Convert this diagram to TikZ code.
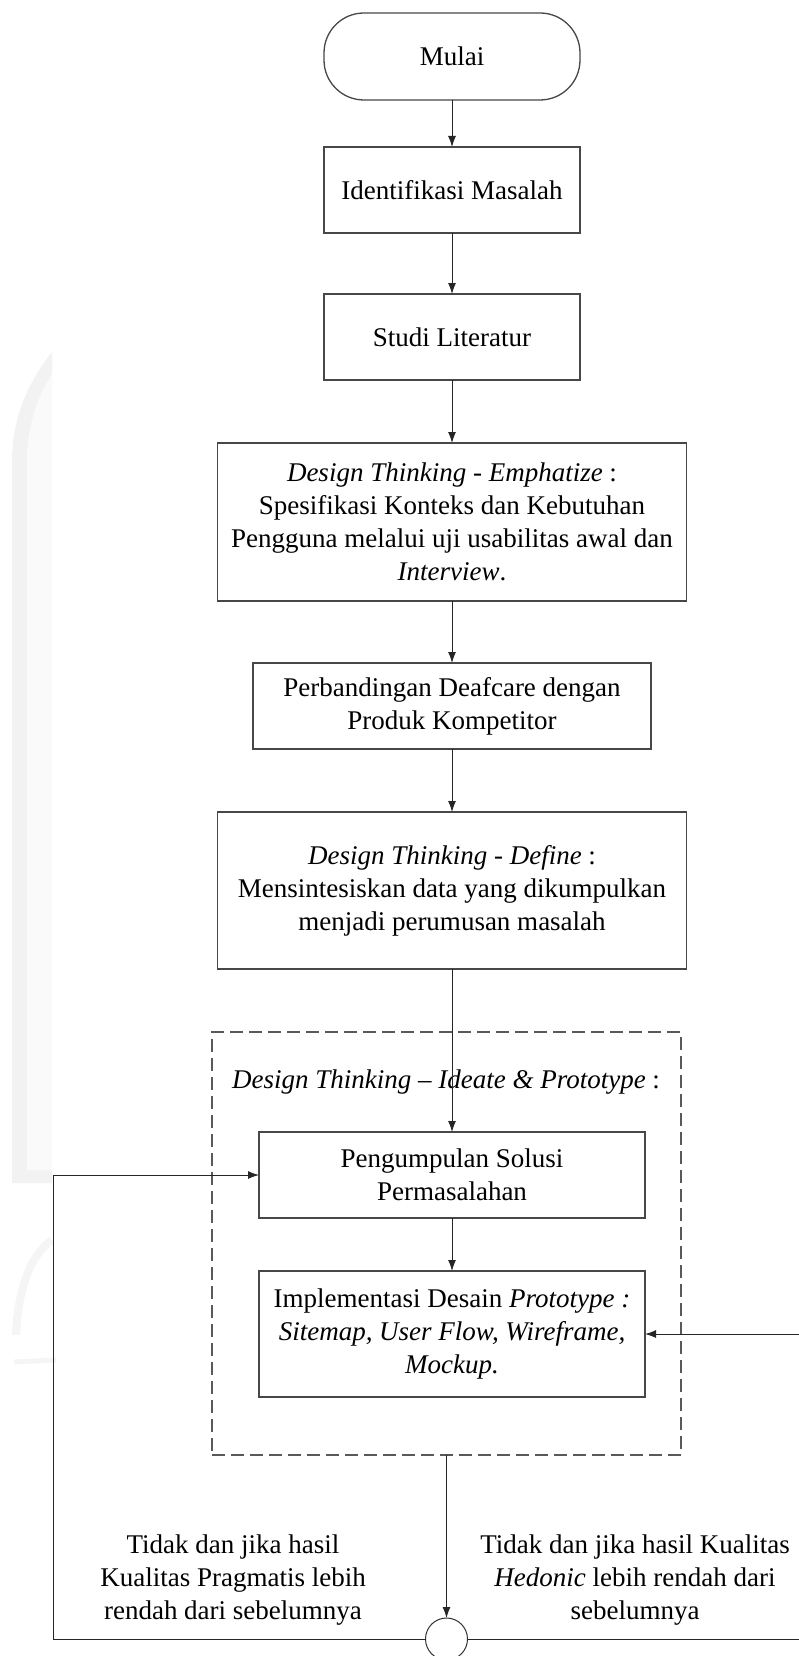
\documentclass[tikz,border=0pt]{standalone}
\usepackage{fontspec}
\setmainfont{Liberation Serif}
\usetikzlibrary{arrows.meta}
\begin{document}
\begin{tikzpicture}[x=1pt,y=-1pt,
  txt/.style={font=\fontsize{27}{33}\selectfont, align=center, inner sep=0pt},
  box/.style={txt, draw=black!72, line width=1.3pt, rectangle, outer sep=0pt},
  group/.style={draw=black!65, line width=1.2pt, dash pattern=on 13pt off 6pt, rectangle, inner sep=0pt, outer sep=0pt},
  flow/.style={draw=black!85, line width=1pt, -{Latex[length=11pt,width=8pt]}},
  merger/.style={draw=black!80, line width=1pt, circle, minimum size=42pt, inner sep=0pt, outer sep=0pt}]
\useasboundingbox (0,0) rectangle (799,1656);

% faint background emblem
\fill[black!5] (52,352) .. controls (26,385) and (12,420) .. (12,462) -- (12,1183) -- (52,1183)
  -- (52,1170) -- (27,1170) -- (27,462) .. controls (27,428) and (37,398) .. (52,374) -- cycle;
\fill[black!2] (27,462) .. controls (27,428) and (37,398) .. (52,374) -- (52,1170) -- (27,1170) -- cycle;
\draw[black!4, line width=8pt] (16,1335) .. controls (18,1290) and (30,1255) .. (52,1240);
\draw[black!4, line width=5pt] (14,1362) -- (56,1360);

% process steps
\node[box, rounded corners=40pt, minimum width=256pt, minimum height=87pt] (mulai) at (452,56.5) {Mulai};
\node[box, minimum width=256pt, minimum height=86pt] (ident) at (452,190) {Identifikasi Masalah};
\node[box, minimum width=256pt, minimum height=86pt] (studi) at (452,337) {Studi Literatur};
\node[box, minimum width=469pt, minimum height=158pt] (emph) at (452,522)
  {\textit{Design Thinking - Emphatize} :\\ Spesifikasi Konteks dan Kebutuhan\\ Pengguna melalui uji usabilitas awal dan\\ \textit{Interview}.};
\node[box, minimum width=398pt, minimum height=86pt] (banding) at (452,706)
  {Perbandingan Deafcare dengan\\ Produk Kompetitor};
\node[box, minimum width=469pt, minimum height=157pt] (define) at (452,890.5)
  {\textit{Design Thinking - Define} :\\ Mensintesiskan data yang dikumpulkan\\ menjadi perumusan masalah};

% ideate & prototype group
\node[group, minimum width=469pt, minimum height=423pt] (grp) at (446.5,1243.5) {};
\node[txt] (grplabel) at (446,1082) {\textit{Design Thinking -- Ideate \& Prototype} :};
\node[box, minimum width=386pt, minimum height=86pt] (kumpul) at (452,1175)
  {Pengumpulan Solusi\\ Permasalahan};
\node[box, minimum width=386pt, minimum height=126pt] (impl) at (452,1334)
  {Implementasi Desain \textit{Prototype :}\\ \textit{Sitemap, User Flow, Wireframe,}\\ \textit{Mockup.}};

% evaluation junction and branch labels
\node[merger] (merge) at (446.5,1639) {};
\node[txt] (lblL) at (233,1580) {Tidak dan jika hasil\\ Kualitas Pragmatis lebih\\ rendah dari sebelumnya};
\node[txt] (lblR) at (635,1580) {Tidak dan jika hasil Kualitas\\ \textit{Hedonic} lebih rendah dari\\ sebelumnya};

\coordinate (loopL) at (53,1639);
\coordinate (loopR) at (830,1639);

% connectors
\draw[flow] (mulai) -- (ident);
\draw[flow] (ident) -- (studi);
\draw[flow] (studi) -- (emph);
\draw[flow] (emph) -- (banding);
\draw[flow] (banding) -- (define);
\draw[flow] (define) -- (kumpul);
\draw[flow] (kumpul) -- (impl);
\draw[flow] (grp.south) -- (merge.north);
\draw[flow] (merge.west) -- (loopL) |- (kumpul.west);
\draw[flow] (merge.east) -- (loopR) |- (impl.east);
\end{tikzpicture}
\end{document}
